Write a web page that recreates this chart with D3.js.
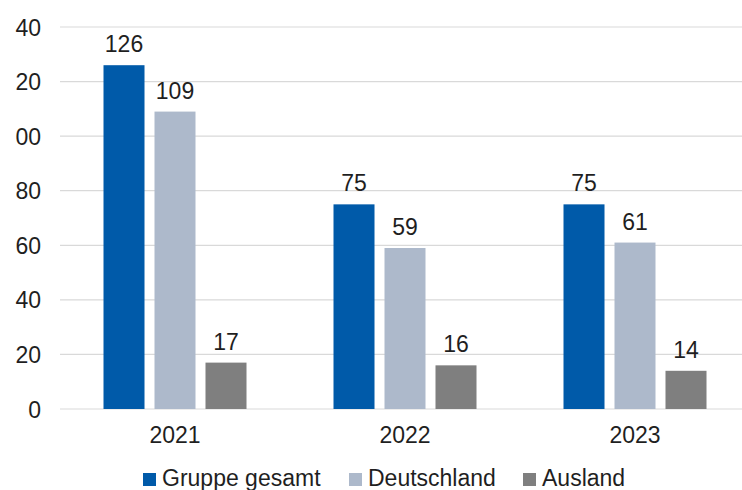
<!DOCTYPE html>
<html>
<head>
<meta charset="utf-8">
<script src="https://cdn.jsdelivr.net/npm/d3@7"></script>
<style>
  html, body { margin: 0; padding: 0; background: #fff; }
  svg { display: block; font-family: "Liberation Sans", Arial, sans-serif; }
</style>
</head>
<body>
<svg id="chart" width="742" height="490"></svg>
<script>
// Years on the x axis
const years = ["2021", "2022", "2023"];
// Series names and their values per year
const seriesNames = ["Gruppe gesamt", "Deutschland", "Ausland"];
const gruppeGesamt = [126, 75, 75];
const deutschland = [109, 59, 61];
const ausland = [17, 16, 14];
// Y axis ticks
const yTicks = [0, 20, 40, 60, 80, 100, 120, 140];

const seriesValues = [gruppeGesamt, deutschland, ausland];
const colors = ["#005AA9", "#ADB9CB", "#7F7F7F"];
const textColor = "#1f1f1f";
const fontSize = "23px";

const svg = d3.select("#chart");
const plotLeft = 60, plotRight = 750, plotTop = 27, plotBottom = 409;

const x0 = d3.scaleBand().domain(years).range([plotLeft, plotRight]).padding(0);
const x1 = d3.scaleBand().domain(seriesNames)
  .range([43.5, x0.bandwidth() - 43.5]).paddingInner(0.196).paddingOuter(0);
const y = d3.scaleLinear().domain([0, 140]).range([plotBottom, plotTop]);

// Horizontal gridlines
svg.append("g").selectAll("line").data(yTicks).join("line")
  .attr("x1", plotLeft).attr("x2", plotRight)
  .attr("y1", d => y(d)).attr("y2", d => y(d))
  .attr("stroke", "#D9D9D9").attr("stroke-width", 1.2);

// Y axis labels (the left edge of the page cuts off the hundreds digit)
svg.append("clipPath").attr("id", "yclip")
  .append("rect").attr("x", 15).attr("y", 0).attr("width", 60).attr("height", 490);
const yAxis = svg.append("g").attr("clip-path", "url(#yclip)")
  .append("g")
  .attr("transform", `translate(41,0)`)
  .call(d3.axisLeft(y).tickValues(yTicks).tickSize(0).tickPadding(0).tickFormat(d3.format("d")));
yAxis.select(".domain").remove();
yAxis.selectAll("text").attr("fill", textColor).style("font-size", fontSize)
  .attr("dy", "0.35em");

// X axis labels
const xAxis = svg.append("g").attr("transform", `translate(0,${plotBottom})`)
  .call(d3.axisBottom(x0).tickSize(0).tickPadding(18));
xAxis.select(".domain").remove();
xAxis.selectAll("text").attr("fill", textColor).style("font-size", fontSize);

// Bars and value labels
const groups = svg.append("g").selectAll("g").data(years).join("g")
  .attr("transform", d => `translate(${x0(d)},0)`);

groups.each(function(year, i) {
  const g = d3.select(this);
  const rows = seriesNames.map((s, k) => ({ s, k, v: seriesValues[k][i] }));
  g.selectAll("rect").data(rows).join("rect")
    .attr("x", d => x1(d.s)).attr("width", x1.bandwidth())
    .attr("y", d => y(d.v)).attr("height", d => y(0) - y(d.v))
    .attr("fill", d => colors[d.k]);
  g.selectAll("text").data(rows).join("text")
    .attr("x", d => x1(d.s) + x1.bandwidth() / 2)
    .attr("y", d => y(d.v) - 13)
    .attr("text-anchor", "middle")
    .attr("fill", textColor).style("font-size", fontSize)
    .text(d => d.v);
});

// Legend
const legendX = [143, 349, 523];
const legend = svg.append("g").selectAll("g").data(seriesNames).join("g")
  .attr("transform", (d, i) => `translate(${legendX[i]},473)`);
legend.append("rect").attr("width", 13).attr("height", 13)
  .attr("fill", (d, i) => colors[i]);
legend.append("text").attr("x", 19).attr("y", 12.5)
  .attr("fill", textColor).style("font-size", fontSize).text(d => d);
</script>
</body>
</html>
